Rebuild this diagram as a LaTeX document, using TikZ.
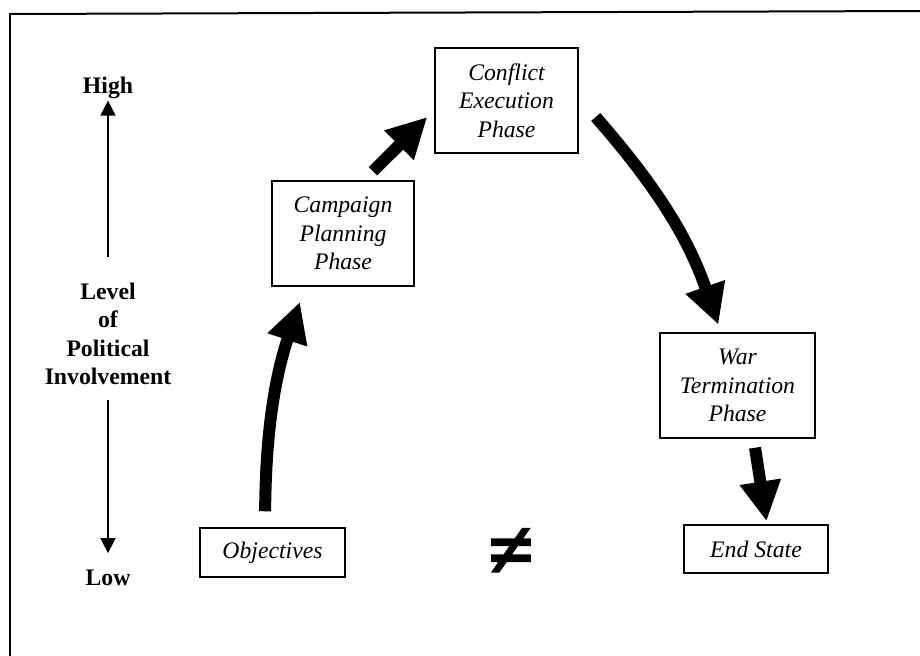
\documentclass[tikz,border=0pt]{standalone}
\usepackage{amsmath, amssymb}
\usepackage{fontspec}
\setmainfont{Liberation Serif}
\newfontfamily\neqfont[FakeBold=2.5]{Liberation Serif}
\usepackage{tikz}
\usetikzlibrary{arrows.meta}

\begin{document}
\begin{tikzpicture}[x=0.02cm, y=-0.02cm,
    phase/.style={draw, line width=0.03cm, inner sep=0pt, align=center,
      font=\itshape\fontsize{13.5}{16.2}\selectfont},
    level_lbl/.style={inner sep=0pt, align=center,
      font=\bfseries\fontsize{13.5}{16.2}\selectfont},
    flow/.style={line width=0.24cm, -{Triangle[length=0.8cm, width=0.78cm]}},
    axis_arrow/.style={line width=0.03cm, -{Triangle[length=0.3cm, width=0.3cm]}}]
      \useasboundingbox (0,0) rectangle (920,656);
      % Draw the frame
      \draw[line width=0.04cm] (10,656) -- (10,14) -- (920,11);
      % Phase boxes
      \node[phase, minimum width=2.9cm, minimum height=0.98cm] (obj) at (272.5,552.5) {Objectives};
      \node[phase, minimum width=2.84cm, minimum height=2.1cm] (camp) at (343,233.5) {Campaign\\Planning\\Phase};
      \node[phase, minimum width=2.86cm, minimum height=2.1cm] (conf) at (506.5,100.5) {Conflict\\Execution\\Phase};
      \node[phase, minimum width=3.1cm, minimum height=2.1cm] (war) at (737.5,385.5) {War\\Termination\\Phase};
      \node[phase, minimum width=2.88cm, minimum height=0.96cm] (endst) at (756,549) {End State};
      \node[font=\neqfont\bfseries\fontsize{46}{46}\selectfont] (ne) at (511,553) {≠};
      % Arrows between the phases
      \draw[flow, shorten <=0.32cm, shorten >=0.32cm] ([xshift=-0.15cm]obj.north) to[bend left=9] ([xshift=-0.76cm]camp.south);
      \draw[flow] ([xshift=0.6cm, yshift=0.18cm]camp.north) -- ([xshift=-0.14cm, yshift=-0.33cm]conf.west);
      \draw[flow, shorten >=0.16cm] ([xshift=0.34cm, yshift=-0.33cm]conf.east) to[bend left=11] ([xshift=-0.33cm]war.north);
      \draw[flow, shorten >=0.06cm] ([xshift=0.35cm, yshift=-0.18cm]war.south) -- ([xshift=0.22cm]endst.north);
      % Level of political involvement
      \node[level_lbl, anchor=base] (high) at (108,93) {High};
      \node[level_lbl] (lvl) at (108,334) {Level\\of\\Political\\Involvement};
      \node[level_lbl, anchor=base] (low) at (108,585) {Low};
      \draw[axis_arrow, shorten <=0.52cm, shorten >=0.04cm] (lvl.north) -- (high.south);
      \draw[axis_arrow, shorten <=0.3cm, shorten >=0.32cm] (lvl.south) -- (low.north);
\end{tikzpicture}
\end{document}
